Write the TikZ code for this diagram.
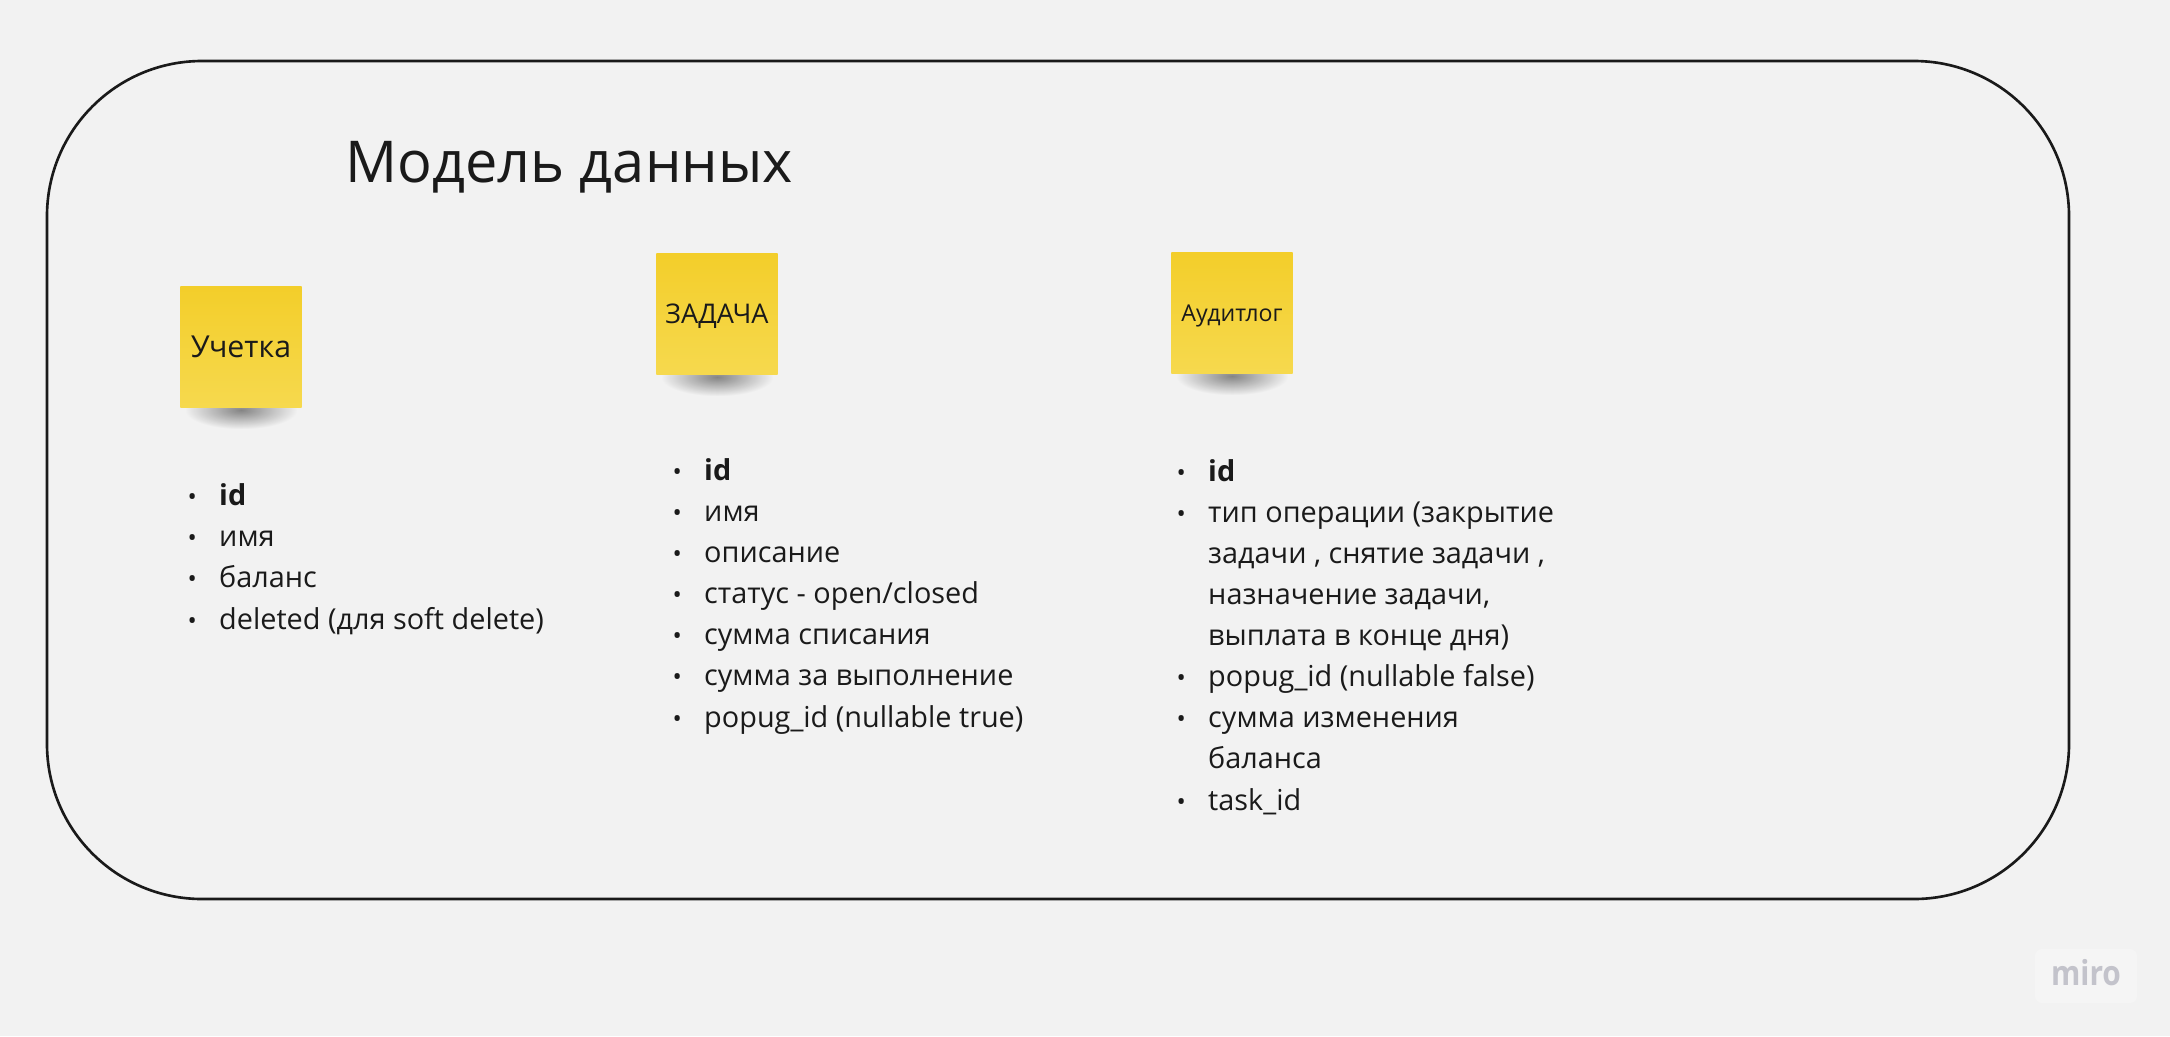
\documentclass[tikz,border=0pt]{standalone}
\usepackage{fontspec}
\setmainfont{Open Sans}
\usepackage{xcolor}
\definecolor{board}{HTML}{F2F2F2}
\definecolor{ink}{HTML}{1A1A1A}
\definecolor{stickytop}{HTML}{F3CE2A}
\definecolor{stickybot}{HTML}{F6D94E}
\definecolor{logogray}{HTML}{C3C3CB}
\usetikzlibrary{calc,fadings}
\tikzfading[name=shadefade, inner color=transparent!55, outer color=transparent!100]
\newcommand{\itm}[1]{\makebox[0.315cm][l]{\fontsize{7}{7}\selectfont •}#1}
\newcommand{\cnt}[1]{\hspace*{0.315cm}#1}

\begin{document}
\begin{tikzpicture}[x=0.01cm, y=-0.01cm,
    every node/.style={text=ink, inner sep=0pt},
    frame/.style={draw=ink, line width=0.75pt, rounded corners=1.55cm},
    sticky/.style={top color=stickytop, bottom color=stickybot,
                   minimum width=1.21cm, minimum height=1.21cm, align=center},
    noteshade/.style={fill=black, path fading=shadefade},
    fieldlist/.style={anchor=base west, align=left,
                      font=\fontsize{8.2}{11.67}\selectfont},
    heading/.style={anchor=base west, font=\fontsize{16.4}{19}\selectfont}]
  \useasboundingbox (0,0) rectangle (2170,1036);
  \fill[board] (0,0) rectangle (2170,1036);
  \draw[frame] (47,61) rectangle (2069,899);

  \node[heading] (title) at (345,182) {Модель данных};

  % sticky notes
  \coordinate (pAcc) at (241,347);
  \coordinate (pTask) at (717,314);
  \coordinate (pAudit) at (1232,313);
  \foreach \p in {pAcc,pTask,pAudit}
    \fill[noteshade] ($(\p)+(-56,44)$) rectangle ($(\p)+(56,82)$);
  \node[sticky, text height=6.1pt, text depth=0pt,
        font=\fontsize{8.6}{9}\selectfont] (acc) at (pAcc) {Учетка};
  \node[sticky, text height=5.5pt, text depth=0pt,
        font=\fontsize{7.7}{8}\selectfont] (task) at (pTask) {ЗАДАЧА};
  \node[sticky, text height=4.7pt, text depth=0pt,
        font=\fontsize{6.6}{7}\selectfont] (audit) at (pAudit) {Аудитлог};

  % fields (base = last line)
  \node[fieldlist] (accfields) at (187,629) {%
    \itm{\textbf{id}}\\
    \itm{имя}\\
    \itm{баланс}\\
    \itm{deleted (для soft delete)}};
  \node[fieldlist] (taskfields) at (672,727) {%
    \itm{\textbf{id}}\\
    \itm{имя}\\
    \itm{описание}\\
    \itm{статус - open/closed}\\
    \itm{сумма списания}\\
    \itm{сумма за выполнение}\\
    \itm{popug\_id (nullable true)}};
  \node[fieldlist] (auditfields) at (1176,810) {%
    \itm{\textbf{id}}\\
    \itm{тип операции (закрытие}\\
    \cnt{задачи , снятие задачи ,}\\
    \cnt{назначение задачи,}\\
    \cnt{выплата в конце дня)}\\
    \itm{popug\_id (nullable false)}\\
    \itm{сумма изменения}\\
    \cnt{баланса}\\
    \itm{task\_id}};

  % logo
  \fill[white, opacity=0.25, rounded corners=2pt] (2035,949) rectangle (2137,1003);
  \node[anchor=base, text=logogray, font=\fontsize{8.5}{9}\bfseries] (logo) at (2086,985)
    {\scalebox{1}[1.15]{miro}};
\end{tikzpicture}
\end{document}
